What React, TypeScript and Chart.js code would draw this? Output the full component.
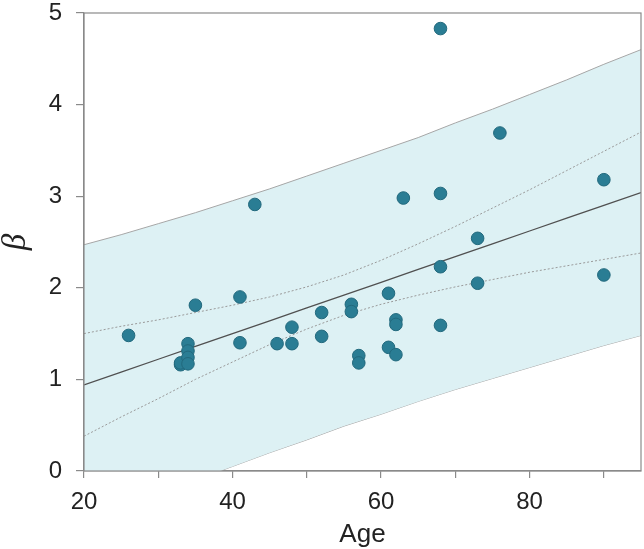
import React, { useEffect, useRef } from "react";
import { Chart, registerables } from "chart.js";

Chart.register(...registerables);

// Curve sample ages
const curveAges = [20, 25, 30, 35, 40, 45, 50, 55, 60, 65, 70, 75, 80, 85, 90, 95];
const fitLine = [0.94, 1.08, 1.22, 1.36, 1.5, 1.64, 1.78, 1.92, 2.06, 2.2, 2.34, 2.48, 2.62, 2.76, 2.9, 3.04];
const predUpper = [2.47, 2.58, 2.7, 2.82, 2.95, 3.08, 3.22, 3.36, 3.5, 3.64, 3.8, 3.95, 4.11, 4.27, 4.44, 4.6];
const predLower = [-0.59, -0.42, -0.26, -0.1, 0.05, 0.2, 0.34, 0.49, 0.62, 0.76, 0.89, 1.01, 1.13, 1.25, 1.37, 1.48];
const confUpper = [1.5, 1.58, 1.65, 1.73, 1.81, 1.9, 2.01, 2.14, 2.3, 2.48, 2.67, 2.87, 3.07, 3.28, 3.49, 3.7];
const confLower = [0.38, 0.59, 0.79, 1.0, 1.19, 1.38, 1.55, 1.7, 1.82, 1.92, 2.01, 2.09, 2.17, 2.24, 2.31, 2.38];

// Observations
const ageObs = [26, 33, 33, 34, 34, 34, 34, 35, 41, 41, 43, 46, 48, 48, 52, 52, 56, 56, 57, 57, 61, 61, 62, 62, 62, 63, 68, 68, 68, 68, 73, 73, 76, 90, 90];
const betaObs = [1.48, 1.16, 1.18, 1.39, 1.31, 1.24, 1.17, 1.81, 1.9, 1.4, 2.91, 1.39, 1.57, 1.39, 1.73, 1.47, 1.82, 1.74, 1.26, 1.18, 1.94, 1.35, 1.65, 1.6, 1.27, 2.98, 4.83, 3.03, 2.23, 1.59, 2.54, 2.05, 3.69, 3.18, 2.14];

const xTickLabels = [20, 40, 60, 80];
const xTickMarks = [20, 30, 40, 50, 60, 70, 80, 90];
const yTickLabels = [0, 1, 2, 3, 4, 5];

const toXY = (xs: number[], ys: number[]) => xs.map((x, i) => ({ x, y: ys[i] }));

const frame = {
  id: "frame",
  afterDraw(chart: any) {
    const { ctx, chartArea: a } = chart;
    ctx.save();
    ctx.strokeStyle = "#8a8a8a";
    ctx.lineWidth = 1.2;
    ctx.strokeRect(a.left, a.top, a.right - a.left, a.bottom - a.top);
    ctx.restore();
  },
};

export default function App() {
  const ref = useRef<HTMLCanvasElement | null>(null);
  useEffect(() => {
    if (!ref.current) return;
    const chart = new Chart(ref.current, {
      type: "scatter",
      data: {
        datasets: [
          {
            type: "line",
            data: toXY(curveAges, predUpper),
            borderColor: "#a6a6a6",
            borderWidth: 1,
            pointRadius: 0,
            backgroundColor: "rgba(221,241,244,1)",
            fill: "+1",
            order: 3,
          } as any,
          {
            type: "line",
            data: toXY(curveAges, predLower),
            borderColor: "#a6a6a6",
            borderWidth: 1,
            pointRadius: 0,
            fill: false,
            order: 3,
          } as any,
          {
            type: "line",
            data: toXY(curveAges, confUpper),
            borderColor: "#9a9a9a",
            borderWidth: 1,
            borderDash: [2, 2],
            pointRadius: 0,
            fill: false,
            order: 2,
          } as any,
          {
            type: "line",
            data: toXY(curveAges, confLower),
            borderColor: "#9a9a9a",
            borderWidth: 1,
            borderDash: [2, 2],
            pointRadius: 0,
            fill: false,
            order: 2,
          } as any,
          {
            type: "line",
            data: toXY(curveAges, fitLine),
            borderColor: "#505050",
            borderWidth: 1.3,
            pointRadius: 0,
            fill: false,
            order: 1,
          } as any,
          {
            type: "scatter",
            data: toXY(ageObs, betaObs),
            backgroundColor: "#2a7d94",
            borderColor: "#22697d",
            borderWidth: 1,
            pointRadius: 6.3,
            order: 0,
          } as any,
        ],
      },
      options: {
        animation: false,
        responsive: false,
        layout: { autoPadding: false, padding: { top: 13, right: 3, left: 0, bottom: 0 } },
        plugins: { legend: { display: false }, tooltip: { enabled: false } },
        scales: {
          x: {
            type: "linear",
            min: 20,
            max: 95,
            afterFit: (s: any) => {
              s.height = 78;
              s.paddingLeft = 0;
              s.paddingRight = 0;
            },
            afterBuildTicks: (s: any) => {
              s.ticks = xTickMarks.map((v) => ({ value: v }));
            },
            ticks: {
              autoSkip: false,
              maxRotation: 0,
              padding: 10,
              color: "#222",
              font: { family: "Liberation Sans, Arial, sans-serif", size: 24 },
              callback: (v: any) => (xTickLabels.includes(Number(v)) ? String(v) : ""),
            },
            grid: { drawOnChartArea: false, tickLength: 7, color: "#8a8a8a", lineWidth: 1.2 },
            border: { display: true, color: "#8a8a8a", width: 1.2 },
            title: {
              display: true,
              text: "Age",
              color: "#222",
              font: { family: "Liberation Sans, Arial, sans-serif", size: 26 },
              padding: { top: 0, bottom: -1 },
            },
          },
          y: {
            type: "linear",
            min: 0,
            max: 5,
            afterFit: (s: any) => {
              s.width = 84;
              s.paddingTop = 0;
              s.paddingBottom = 0;
            },
            afterBuildTicks: (s: any) => {
              s.ticks = yTickLabels.map((v) => ({ value: v }));
            },
            ticks: {
              padding: 14,
              color: "#222",
              font: { family: "Liberation Sans, Arial, sans-serif", size: 24 },
            },
            grid: { drawOnChartArea: false, tickLength: 8, color: "#8a8a8a", lineWidth: 1.2 },
            border: { display: true, color: "#8a8a8a", width: 1.2 },
            title: {
              display: true,
              text: "β",
              color: "#222",
              font: { family: "Liberation Serif, serif", size: 33, style: "italic" },
              padding: { top: -3, bottom: 0 },
            },
          },
        },
      },
      plugins: [frame],
    });
    return () => chart.destroy();
  }, []);
  return (
    <div style={{ position: "fixed", left: 0, top: 0, width: 644, height: 549, background: "#fff" }}>
      <canvas ref={ref} width={644} height={549} style={{ width: 644, height: 549, display: "block" }} />
    </div>
  );
}
